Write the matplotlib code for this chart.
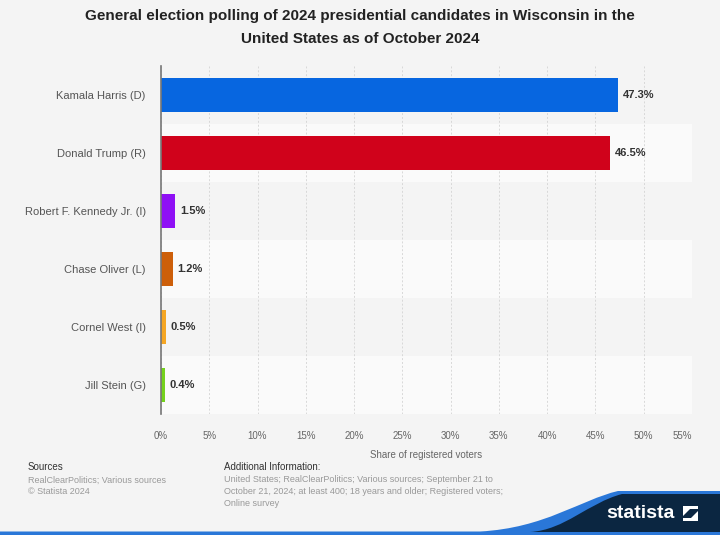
import matplotlib.pyplot as plt
from matplotlib.patches import Rectangle, PathPatch, Polygon
from matplotlib.path import Path

plt.rcParams['font.family'] = ['Liberation Sans', 'DejaVu Sans']

candidates = ['Kamala Harris (D)', 'Donald Trump (R)', 'Robert F. Kennedy Jr. (I)',
              'Chase Oliver (L)', 'Cornel West (I)', 'Jill Stein (G)']
shares = [47.3, 46.5, 1.5, 1.2, 0.5, 0.4]
colors = ['#0766e0', '#d0021b', '#8f10f5', '#cd5f0a', '#f5a623', '#74d11c']
ticks = list(range(0, 60, 5))

W, H = 720, 535
fig = plt.figure(figsize=(7.2, 5.35), dpi=100, facecolor='#f4f4f4')
ax = fig.add_axes([161 / W, 1 - 414 / H, (692 - 161) / W, (414 - 66) / H])
ax.set_facecolor('#f4f4f4')

n = len(candidates)
ypos = list(range(n))
# alternating row bands
for i in ypos:
    if i % 2 == 1:
        ax.add_patch(Rectangle((0, i - 0.5), 55, 1, facecolor='#fafafa',
                               edgecolor='none', zorder=0))

bars = ax.barh(ypos, shares, height=0.57, color=colors, zorder=3)
for b, v in zip(bars, shares):
    ax.text(v + 0.5, b.get_y() + b.get_height() / 2, f'{v}%', va='center',
            ha='left', fontsize=8, fontweight='bold', color='#333333', zorder=4)

ax.set_xlim(0, 55)
ax.set_ylim(n - 0.5, -0.5)
ax.set_yticks(ypos)
ax.set_yticklabels(candidates, fontsize=8, color='#555555')
ax.set_xticks(ticks)
ax.set_xticklabels([f'{t}%' for t in ticks], fontsize=7, color='#666666')
labs = ax.get_xticklabels()
labs[-1].set_horizontalalignment('right')
labs[-1].set_x(55)
ax.tick_params(axis='y', length=0, pad=11)
ax.tick_params(axis='x', length=0, pad=12)
ax.xaxis.grid(True, color='#d8d8d8', linestyle=(0, (2, 2)), linewidth=0.7, zorder=1)
ax.set_axisbelow(True)
for s in ['top', 'right', 'bottom']:
    ax.spines[s].set_visible(False)
ax.spines['left'].set_color('#777777')
ax.spines['left'].set_linewidth(1.2)
ax.spines['left'].set_zorder(5)
ax.set_xlabel('Share of registered voters', fontsize=7, color='#666666', labelpad=7)

fig.text(0.5, 1 - 16 / H, 'General election polling of 2024 presidential candidates in Wisconsin in the',
         ha='center', va='center', fontsize=11, fontweight='bold', color='#222222')
fig.text(0.5, 1 - 39 / H, 'United States as of October 2024',
         ha='center', va='center', fontsize=11, fontweight='bold', color='#222222')

# footer
fig.text(28 / W, 1 - 467 / H, 'Sources', fontsize=7, color='#333333', va='center')
fig.text(28 / W, 1 - 480 / H, 'RealClearPolitics; Various sources', fontsize=6.5, color='#999999', va='center')
fig.text(28 / W, 1 - 492 / H, '© Statista 2024', fontsize=6.5, color='#999999', va='center')
fig.text(224 / W, 1 - 467 / H, 'Additional Information:', fontsize=7, color='#333333', va='center')
info = ['United States; RealClearPolitics; Various sources; September 21 to',
        'October 21, 2024; at least 400; 18 years and older; Registered voters;',
        'Online survey']
for k, line in enumerate(info):
    fig.text(224 / W, 1 - (480 + 12 * k) / H, line, fontsize=6.5, color='#999999', va='center')

# logo wave
def fp(x, y):
    return (x / W, 1 - y / H)

blue = [fp(0, 535), fp(0, 531.5), fp(480, 531.5), fp(545, 528), fp(580, 500), fp(618, 491),
        fp(720, 491), fp(720, 535)]
codes = [Path.MOVETO, Path.LINETO, Path.LINETO, Path.CURVE4, Path.CURVE4, Path.CURVE4,
         Path.LINETO, Path.LINETO]
fig.patches.append(PathPatch(Path(blue, codes), facecolor='#2a77d8', edgecolor='none',
                             transform=fig.transFigure))
navy = [fp(530, 532), fp(565, 530), fp(588, 503), fp(622, 494),
        fp(720, 494), fp(720, 532)]
codes2 = [Path.MOVETO, Path.CURVE4, Path.CURVE4, Path.CURVE4, Path.LINETO, Path.LINETO]
fig.patches.append(PathPatch(Path(navy, codes2), facecolor='#0b2641', edgecolor='none',
                             transform=fig.transFigure))
fig.text(640 / W, 1 - 514 / H, 'statista', fontsize=14, fontweight='bold', color='white',
         ha='center', va='center')
fig.patches.append(Polygon([fp(683, 506), fp(698, 506), fp(698, 509), fp(690, 509),
                            fp(683, 516)], closed=True, facecolor='white',
                           transform=fig.transFigure))
fig.patches.append(Polygon([fp(698, 521), fp(683, 521), fp(683, 518), fp(691, 518),
                            fp(698, 511)], closed=True, facecolor='white',
                           transform=fig.transFigure))

fig.savefig('out.png', dpi=100, facecolor=fig.get_facecolor())
